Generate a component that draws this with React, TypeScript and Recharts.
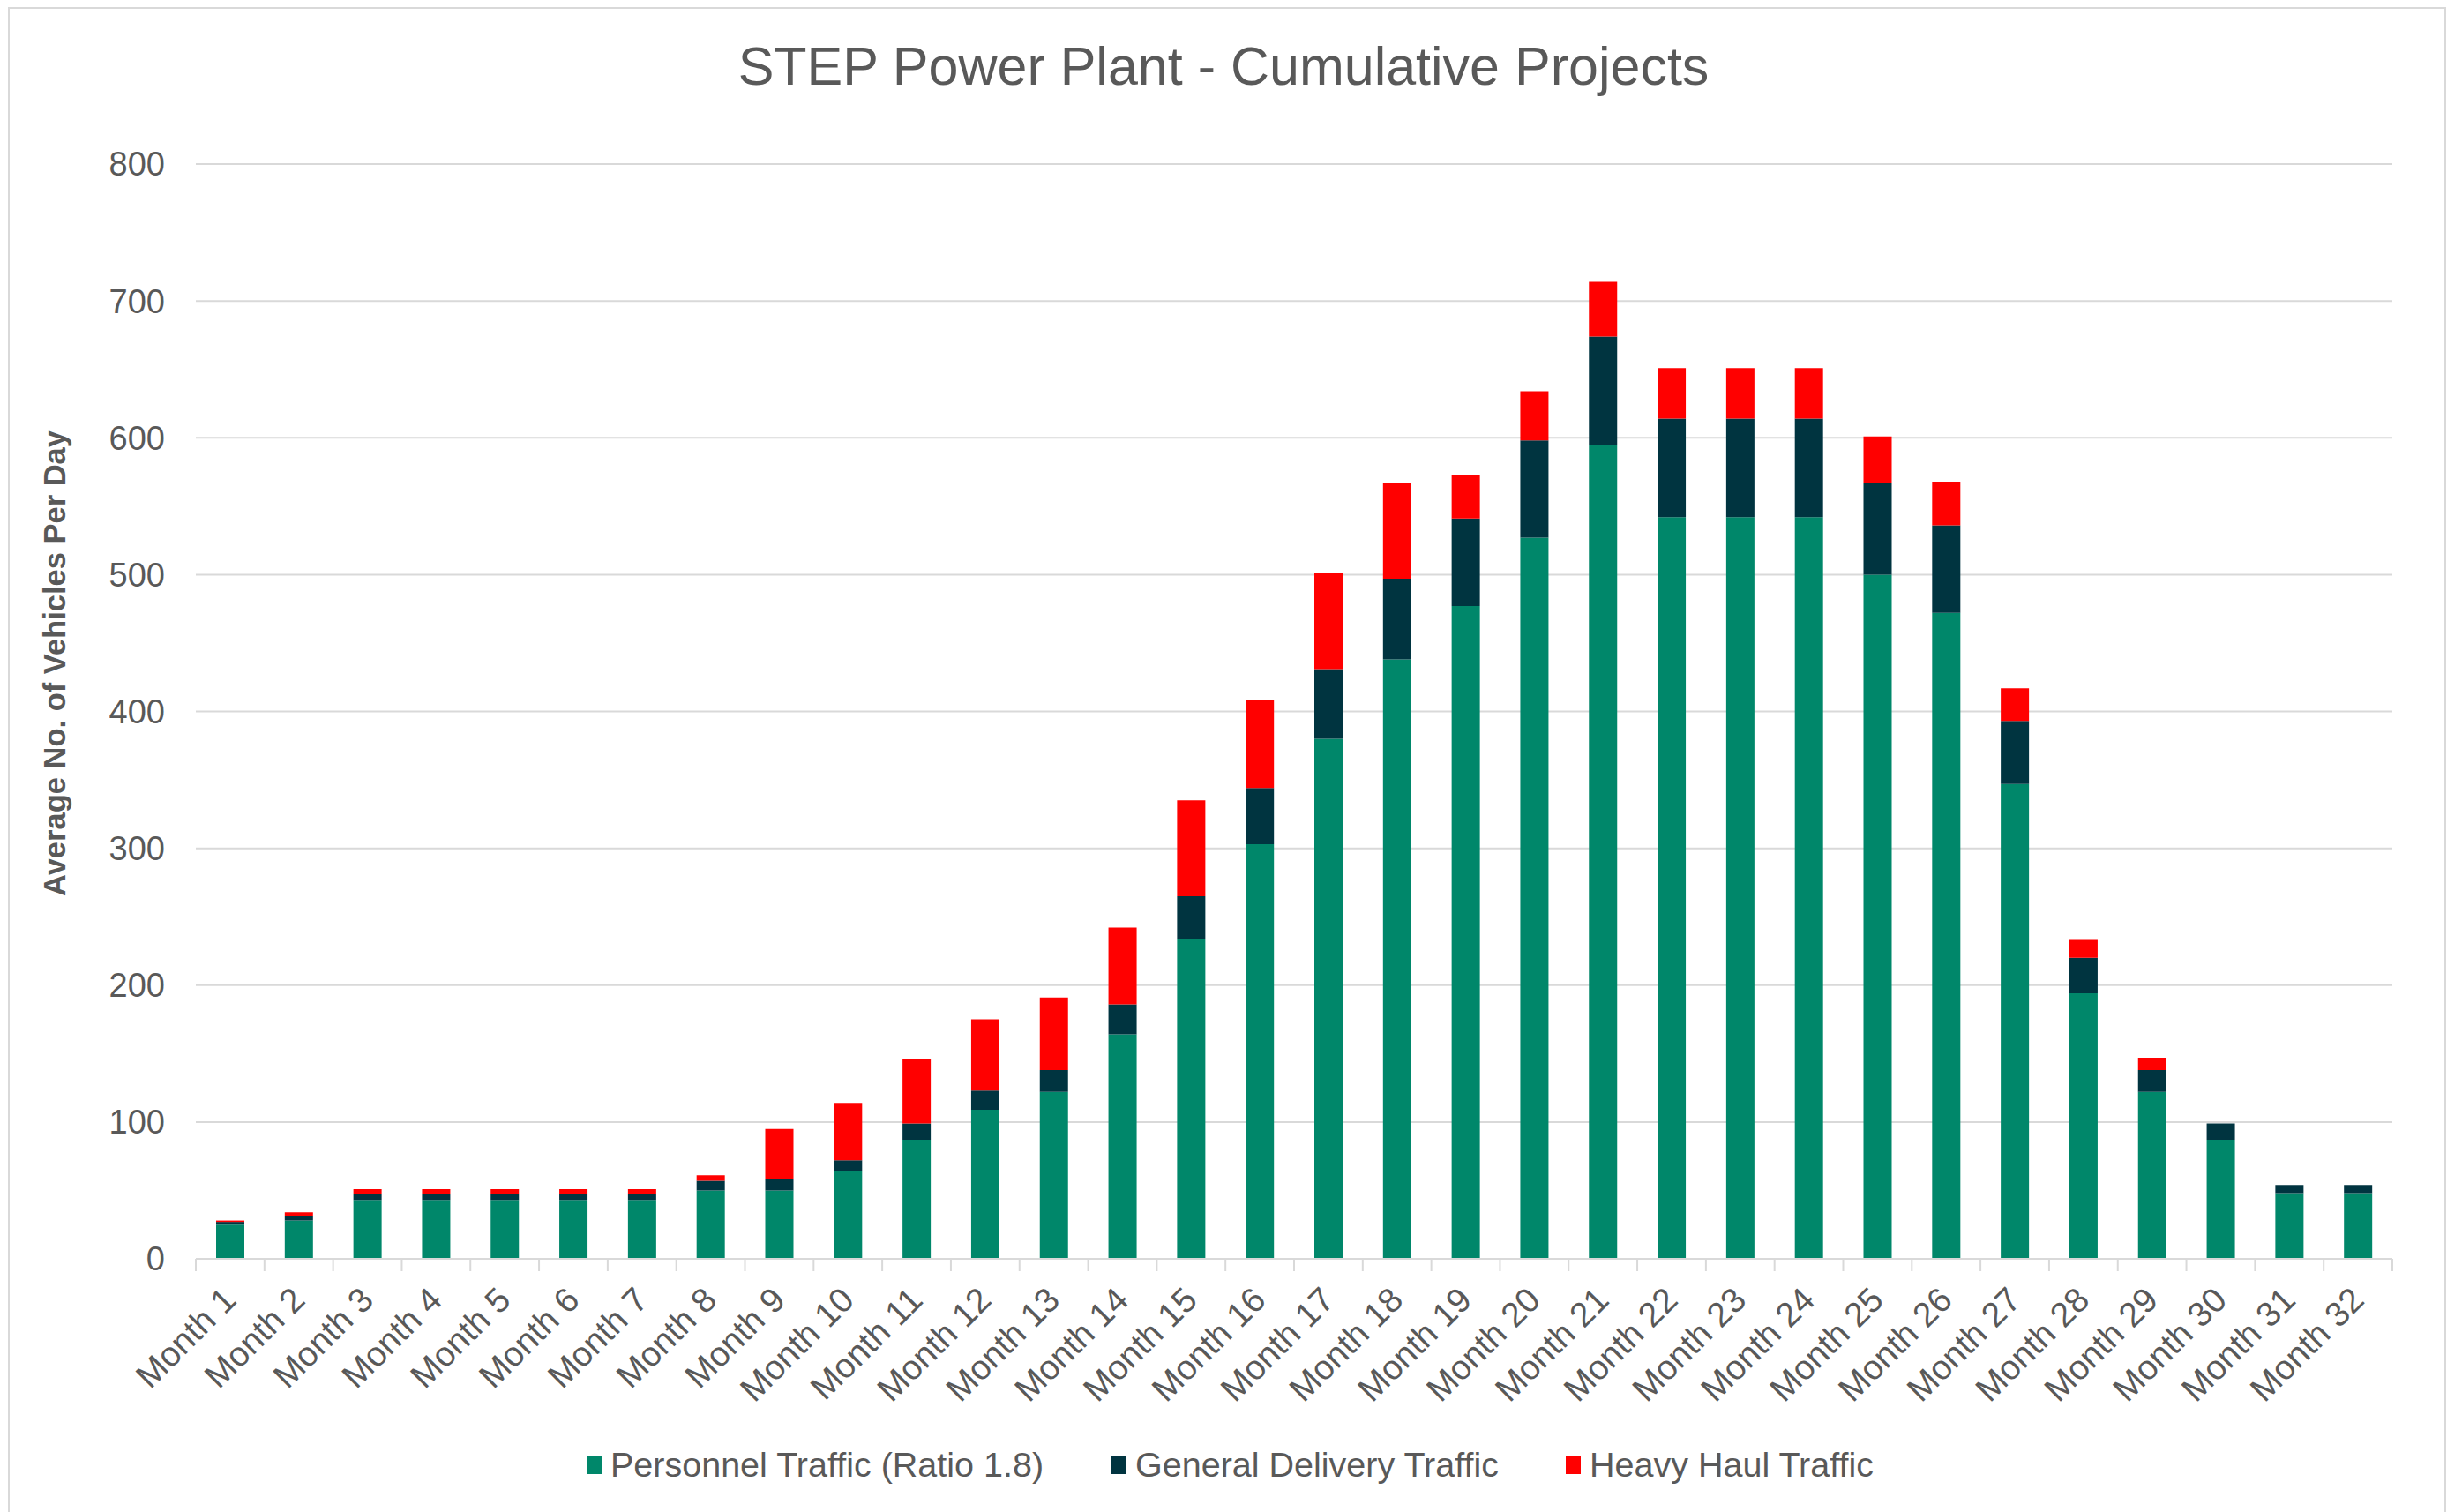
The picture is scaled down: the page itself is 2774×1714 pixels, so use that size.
import { Bar, BarChart, CartesianGrid, Label, XAxis, YAxis } from "recharts";

const months = [
  "Month 1", "Month 2", "Month 3", "Month 4", "Month 5", "Month 6", "Month 7", "Month 8",
  "Month 9", "Month 10", "Month 11", "Month 12", "Month 13", "Month 14", "Month 15", "Month 16",
  "Month 17", "Month 18", "Month 19", "Month 20", "Month 21", "Month 22", "Month 23", "Month 24",
  "Month 25", "Month 26", "Month 27", "Month 28", "Month 29", "Month 30", "Month 31", "Month 32",
];

const personnel = [25, 28, 43, 43, 43, 43, 43, 50, 50, 64, 87, 109, 122, 164, 234, 303, 380, 438, 477, 527, 595, 542, 542, 542, 500, 472, 347, 194, 122, 87, 48, 48];
const general = [2, 3, 4, 4, 4, 4, 4, 7, 8, 8, 12, 14, 16, 22, 31, 41, 51, 59, 64, 71, 79, 72, 72, 72, 67, 64, 46, 26, 16, 12, 6, 6];
const heavy = [1, 3, 4, 4, 4, 4, 4, 4, 37, 42, 47, 52, 53, 56, 70, 64, 70, 70, 32, 36, 40, 37, 37, 37, 34, 32, 24, 13, 9, 0, 0, 0];

const yTicks = [0, 100, 200, 300, 400, 500, 600, 700, 800];

const seriesNames = ["Personnel Traffic (Ratio 1.8)", "General Delivery Traffic", "Heavy Haul Traffic"];
const seriesColors = ["#00876a", "#003440", "#ff0000"];

const data = months.map((m, i) => ({
  month: m,
  personnel: personnel[i],
  general: general[i],
  heavy: heavy[i],
}));

const W = 2774;
const H = 1714;
const PLOT_LEFT = 222;
const PLOT_RIGHT = 2712;
const FONT = "'Liberation Sans', Arial, sans-serif";
const TEXT = "#595959";
const GRID = "#d9d9d9";

// eslint-disable-next-line @typescript-eslint/no-explicit-any
function MonthTick({ x, y, payload, index }: any) {
  const half = (PLOT_RIGHT - PLOT_LEFT) / months.length / 2;
  const ax = x + 9;
  const ay = y + 49;
  return (
    <g>
      <line x1={x - half} y1={y} x2={x - half} y2={y + 14} stroke={GRID} strokeWidth={2} />
      {index === months.length - 1 && (
        <line x1={x + half} y1={y} x2={x + half} y2={y + 14} stroke={GRID} strokeWidth={2} />
      )}
      <text
        x={ax}
        y={ay}
        textAnchor="end"
        transform={`rotate(-45 ${ax} ${ay})`}
        fontSize={39}
        fontFamily={FONT}
        fill={TEXT}
      >
        {payload.value}
      </text>
    </g>
  );
}

const legendX = [665, 1260, 1775];

export default function App() {
  return (
    <div style={{ position: "absolute", left: 0, top: 0, width: W, height: H, background: "#fff", fontFamily: FONT }}>
      {/* frame */}
      <div style={{ position: "absolute", left: 9, top: 8, width: 2760, height: 1720, border: `2px solid ${GRID}` }} />

      <div
        style={{
          position: "absolute",
          left: 0,
          top: 45,
          width: W,
          textAlign: "center",
          fontSize: 61,
          lineHeight: "61px",
          color: TEXT,
        }}
      >
        STEP Power Plant - Cumulative Projects
      </div>

      <div style={{ position: "absolute", left: 0, top: 0 }}>
        <BarChart
          width={W}
          height={H}
          data={data}
          margin={{ top: 186, right: W - PLOT_RIGHT, bottom: 87, left: 0 }}
          barSize={32}
        >
          <CartesianGrid vertical={false} stroke={GRID} strokeWidth={2} />
          <XAxis
            dataKey="month"
            interval={0}
            height={200}
            tickSize={0}
            tickMargin={0}
            axisLine={{ stroke: GRID, strokeWidth: 2 }}
            tickLine={false}
            tick={<MonthTick />}
          />
          <YAxis
            width={PLOT_LEFT}
            domain={[0, 800]}
            ticks={yTicks}
            interval={0}
            axisLine={false}
            tickLine={false}
            tickSize={0}
            tickMargin={35}
            tick={{ fontSize: 38, fill: TEXT, fontFamily: FONT }}
          >
            <Label
              content={() => (
                <text
                  x={62}
                  y={752}
                  transform="rotate(-90 62 752)"
                  textAnchor="middle"
                  dominantBaseline="central"
                  fontSize={34.5}
                  fontWeight="bold"
                  fontFamily={FONT}
                  fill={TEXT}
                >
                  Average No. of Vehicles Per Day
                </text>
              )}
            />
          </YAxis>
          <Bar dataKey="personnel" stackId="a" fill={seriesColors[0]} isAnimationActive={false} />
          <Bar dataKey="general" stackId="a" fill={seriesColors[1]} isAnimationActive={false} />
          <Bar dataKey="heavy" stackId="a" fill={seriesColors[2]} isAnimationActive={false} />
        </BarChart>
      </div>

      {seriesNames.map((name, i) => (
        <div
          key={name}
          style={{
            position: "absolute",
            left: legendX[i],
            top: 1641,
            display: "flex",
            alignItems: "center",
            fontSize: 39.5,
            lineHeight: "39px",
            color: TEXT,
            whiteSpace: "nowrap",
          }}
        >
          <span style={{ display: "inline-block", width: 17, height: 20, background: seriesColors[i], marginRight: 10 }} />
          {name}
        </div>
      ))}
    </div>
  );
}
